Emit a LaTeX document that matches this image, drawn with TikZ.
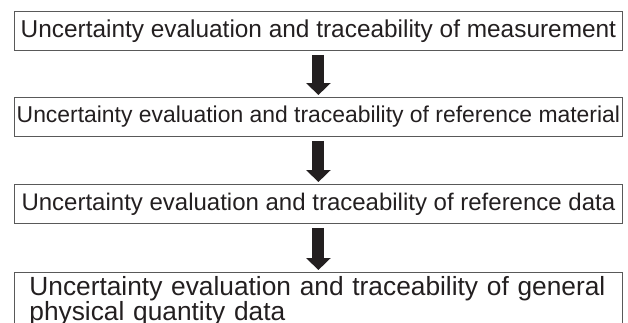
\documentclass[tikz,border=0pt]{standalone}
\usepackage{fontspec}
\setmainfont{Liberation Sans}
\usepackage{xcolor}
\usepackage{tikz}
\usetikzlibrary{arrows.meta}

\definecolor{inkgray}{HTML}{231F20}
\tikzset{
  stagebox/.style={draw=black!65, line width=0.8pt, anchor=north west, minimum width=608pt, minimum height=39pt, inner sep=0pt, text=inkgray, font=\fontsize{24}{28}\selectfont},
  flowarrow/.style={inkgray, line width=12pt, -{Triangle[width=24pt,length=12pt]}, shorten <=4pt, shorten >=2pt}
}

\begin{document}
\begin{tikzpicture}[x=1pt,y=-1pt]
    \clip (0,0) rectangle (628,322);
    \node[stagebox, font=\fontsize{24.4}{28}\selectfont] (meas) at (14,11) {Uncertainty evaluation and traceability of measurement};
    \node[stagebox, font=\fontsize{22.9}{28}\selectfont] (refmat) at (14,97) {Uncertainty evaluation and traceability of reference material};
    \node[stagebox] (refdata) at (14,184) {Uncertainty evaluation and traceability of reference data};
    \node[stagebox, minimum height=0pt, text width=578pt, align=left, inner xsep=15pt, inner ysep=4pt, font=\fontsize{26.3}{22}\selectfont] (general) at (14,272) {Uncertainty evaluation and traceability of general\\physical quantity data};
    \foreach \a/\b in {meas/refmat,refmat/refdata,refdata/general} \draw[flowarrow] (\a.south) -- (\b.north);
  \end{tikzpicture}
\end{document}
